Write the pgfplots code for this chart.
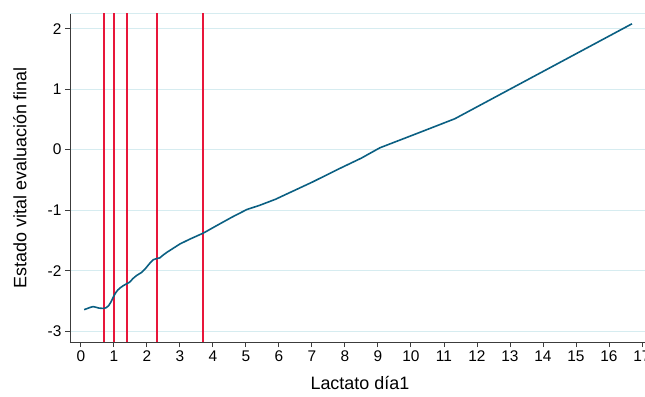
\documentclass[border=0pt]{standalone}
\usepackage{pgfplots}
\pgfplotsset{compat=1.18}
\usepackage{fontspec}
\setmainfont{Liberation Sans}
\definecolor{curve}{RGB}{10,95,130}
\definecolor{vred}{RGB}{232,22,58}
\definecolor{gridc}{RGB}{214,236,240}
\definecolor{axc}{RGB}{60,60,60}
\begin{document}
\begin{tikzpicture}
\begin{axis}[
  at={(0,0)}, anchor=south west,
  scale only axis,
  width=575.2bp, height=328.5bp,
  xmin=-0.33, xmax=17.1,
  ymin=-3.18, ymax=2.25,
  axis lines=left,
  axis line style={-, axc, line width=0.9pt},
  xtick={0,1,...,17},
  ytick={-3,-2,-1,0,1,2},
  tick align=outside,
  major tick length=5bp,
  tick style={axc, line width=0.8pt},
  ymajorgrids,
  grid style={gridc, line width=0.9pt},
  tick label style={font=\fontsize{15.5}{17}\selectfont},
  /pgf/number format/assume math mode=true,
  xlabel={Lactato día1},
  ylabel={Estado vital evaluación final},
  label style={font=\fontsize{18}{20}\selectfont},
  xlabel style={at={(axis description cs:0.504,-0.125)}, anchor=center},
  ylabel style={at={(axis description cs:-0.087,0.5)}, anchor=center},
  clip=false,
]
\addplot[gridc, line width=0.9pt] coordinates {(-0.33,2.25) (17.1,2.25)};
\addplot[vred, line width=1.5pt] coordinates {(0.7,-3.18) (0.7,2.25)};
\addplot[vred, line width=1.5pt] coordinates {(1.0,-3.18) (1.0,2.25)};
\addplot[vred, line width=1.5pt] coordinates {(1.4,-3.18) (1.4,2.25)};
\addplot[vred, line width=1.5pt] coordinates {(2.31,-3.18) (2.31,2.25)};
\addplot[vred, line width=1.5pt] coordinates {(3.7,-3.18) (3.7,2.25)};
\addplot[curve, line width=1.6pt] coordinates {
(0.1,-2.645) (0.2,-2.625) (0.3,-2.605) (0.37,-2.595) (0.45,-2.605) (0.55,-2.62)
(0.68,-2.625) (0.76,-2.615) (0.84,-2.58) (0.91,-2.52) (0.98,-2.44) (1.05,-2.37)
(1.12,-2.32) (1.18,-2.29) (1.28,-2.25) (1.38,-2.22) (1.48,-2.19) (1.58,-2.13)
(1.69,-2.08) (1.78,-2.05) (1.84,-2.03) (1.95,-1.97) (2.07,-1.89) (2.19,-1.82)
(2.3,-1.80) (2.39,-1.79) (2.5,-1.74) (2.6,-1.70) (2.8,-1.63) (3.0,-1.56)
(3.3,-1.48) (3.71,-1.38) (4.2,-1.23) (4.6,-1.11) (5.03,-0.99) (5.42,-0.92)
(5.9,-0.82) (6.33,-0.71) (6.45,-0.68) (7.0,-0.54) (7.85,-0.31) (8.5,-0.14)
(9.06,0.03) (10.2,0.27) (11.33,0.51) (16.7,2.08)
};
\end{axis}
\pgfresetboundingbox
\useasboundingbox (-70bp,-55bp) rectangle (575bp,342bp);
\end{tikzpicture}
\end{document}
